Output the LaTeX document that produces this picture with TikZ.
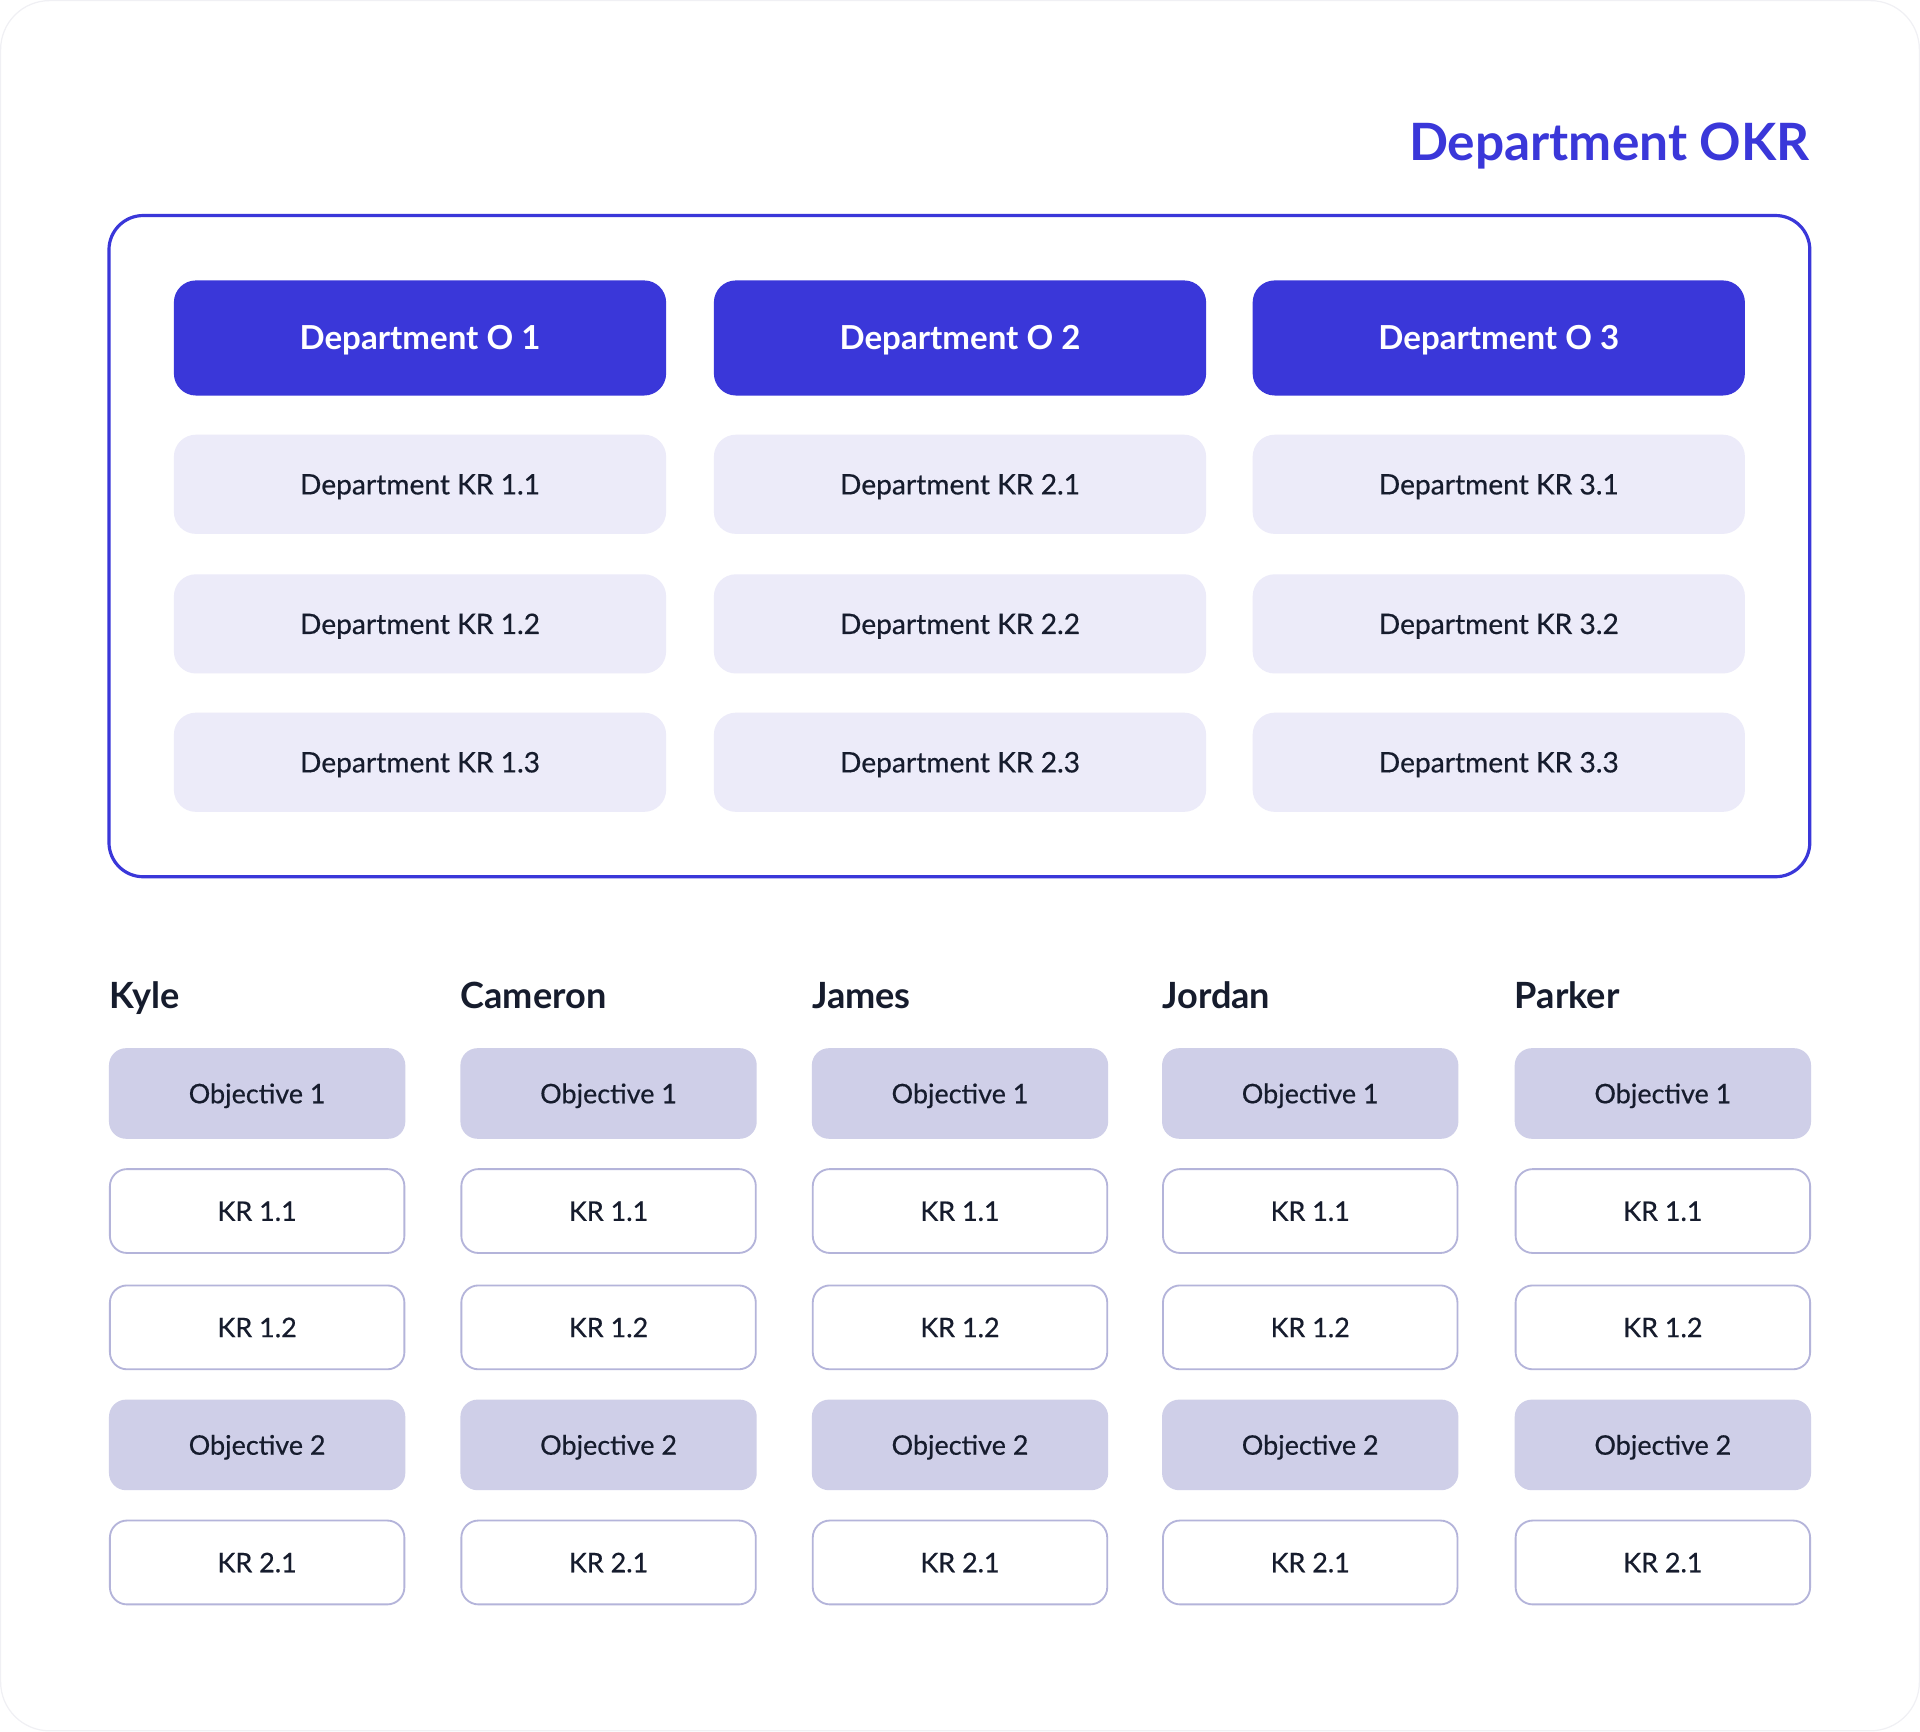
\documentclass[tikz,border=0pt]{standalone}
\usepackage{fontspec}
\setmainfont{Lato}
\newfontfamily\medfont{Lato}[FakeBold=0.5]
\definecolor{okrblue}{RGB}{58,55,217}
\definecolor{lav}{RGB}{236,235,249}
\definecolor{objfill}{RGB}{207,207,232}
\definecolor{krline}{RGB}{180,180,218}
\definecolor{ink}{RGB}{22,28,45}
\definecolor{cardline}{RGB}{240,240,244}
\begin{document}
\begin{tikzpicture}[x=1pt,y=-1pt,
  deptO/.style={rounded corners=18pt, fill=okrblue, text=white, minimum width=402pt, minimum height=94pt, inner sep=0pt,
    font=\bfseries\fontsize{27}{32}\selectfont, text height=19.5pt, text depth=0pt},
  deptKR/.style={rounded corners=18pt, fill=lav, text=ink, minimum width=402pt, minimum height=81pt, inner sep=0pt,
    font=\medfont\fontsize{23}{27}\selectfont, text height=16.5pt, text depth=0pt},
  objbox/.style={rounded corners=14pt, fill=objfill, text=ink, minimum width=242pt, minimum height=74pt, inner sep=0pt,
    font=\medfont\fontsize{22}{26}\selectfont, text height=16pt, text depth=0pt},
  krbox/.style={rounded corners=14pt, draw=krline, line width=1.5pt, fill=white, text=ink, minimum width=240.5pt, minimum height=68.5pt, inner sep=0pt,
    font=\medfont\fontsize{22}{26}\selectfont, text height=16pt, text depth=0pt},
  person/.style={anchor=base west, inner sep=0pt, text=ink, font=\bfseries\fontsize{29.5}{34}\selectfont}
]
\useasboundingbox (0,0) rectangle (1568,1414);
\draw[cardline, line width=1pt, fill=white, rounded corners=40pt] (0.5,0.5) rectangle (1567.5,1413.5);

\node[anchor=base east, inner sep=0pt, text=okrblue, font=\bfseries\fontsize{42}{50}\selectfont] (title) at (1478,131) {Department OKR};

\node[draw=okrblue, line width=2.6pt, rounded corners=28pt, minimum width=1389pt, minimum height=540pt, inner sep=0pt] (frame) at (783.5,446) {};

\foreach \c/\x in {1/343,2/784,3/1224}{
  \node[deptO] (o\c) at (\x,276) {Department O \c};
  \node[deptKR] (kr\c1) at (\x,395.5) {Department KR \c.1};
  \node[deptKR] (kr\c2) at (\x,509.5) {Department KR \c.2};
  \node[deptKR] (kr\c3) at (\x,622.5) {Department KR \c.3};
}

\foreach \n/\name/\x in {1/Kyle/89,2/Cameron/376,3/James/663,4/Jordan/949,5/Parker/1237}{
  \node[person] (p\n) at (\x,824) {\name};
  \node[objbox] (p\n o1) at (\x+121,893) {Objective 1};
  \node[krbox] (p\n k11) at (\x+121,989) {KR 1.1};
  \node[krbox] (p\n k12) at (\x+121,1084) {KR 1.2};
  \node[objbox] (p\n o2) at (\x+121,1180) {Objective 2};
  \node[krbox] (p\n k21) at (\x+121,1276) {KR 2.1};
}
\end{tikzpicture}
\end{document}
